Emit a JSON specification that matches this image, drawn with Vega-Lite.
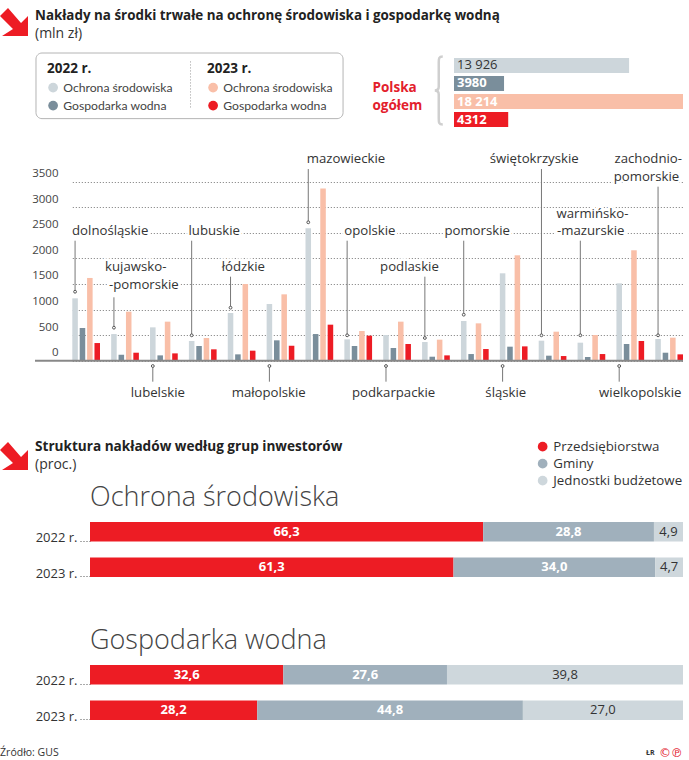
{
"$schema":"https://vega.github.io/schema/vega-lite/v6.json",
"background":"white","padding":0,
"bounds":"flush","spacing":0,
"config":{"font":"Open Sans","view":{"stroke":null},"locale":{"number":{"decimal":",","thousands":" ","grouping":[3],"currency":["","zł"]}},"text":{"color":"#333"}},
"datasets":{
"regions":[
{"region":"dolnośląskie","measure":"Ochrona środowiska","year":"2022","value":1219},{"region":"dolnośląskie","measure":"Gospodarka wodna","year":"2022","value":639},{"region":"dolnośląskie","measure":"Ochrona środowiska","year":"2023","value":1617},{"region":"dolnośląskie","measure":"Gospodarka wodna","year":"2023","value":345},
{"region":"kujawsko-pomorskie","measure":"Ochrona środowiska","year":"2022","value":521},{"region":"kujawsko-pomorskie","measure":"Gospodarka wodna","year":"2022","value":117},{"region":"kujawsko-pomorskie","measure":"Ochrona środowiska","year":"2023","value":958},{"region":"kujawsko-pomorskie","measure":"Gospodarka wodna","year":"2023","value":156},
{"region":"lubelskie","measure":"Ochrona środowiska","year":"2022","value":652},{"region":"lubelskie","measure":"Gospodarka wodna","year":"2022","value":104},{"region":"lubelskie","measure":"Ochrona środowiska","year":"2023","value":763},{"region":"lubelskie","measure":"Gospodarka wodna","year":"2023","value":143},
{"region":"lubuskie","measure":"Ochrona środowiska","year":"2022","value":385},{"region":"lubuskie","measure":"Gospodarka wodna","year":"2022","value":287},{"region":"lubuskie","measure":"Ochrona środowiska","year":"2023","value":443},{"region":"lubuskie","measure":"Gospodarka wodna","year":"2023","value":222},
{"region":"łódzkie","measure":"Ochrona środowiska","year":"2022","value":932},{"region":"łódzkie","measure":"Gospodarka wodna","year":"2022","value":124},{"region":"łódzkie","measure":"Ochrona środowiska","year":"2023","value":1499},{"region":"łódzkie","measure":"Gospodarka wodna","year":"2023","value":196},
{"region":"małopolskie","measure":"Ochrona środowiska","year":"2022","value":1108},{"region":"małopolskie","measure":"Gospodarka wodna","year":"2022","value":398},{"region":"małopolskie","measure":"Ochrona środowiska","year":"2023","value":1297},{"region":"małopolskie","measure":"Gospodarka wodna","year":"2023","value":293},
{"region":"mazowieckie","measure":"Ochrona środowiska","year":"2022","value":2588},{"region":"mazowieckie","measure":"Gospodarka wodna","year":"2022","value":521},{"region":"mazowieckie","measure":"Ochrona środowiska","year":"2023","value":3364},{"region":"mazowieckie","measure":"Gospodarka wodna","year":"2023","value":704},
{"region":"opolskie","measure":"Ochrona środowiska","year":"2022","value":417},{"region":"opolskie","measure":"Gospodarka wodna","year":"2022","value":287},{"region":"opolskie","measure":"Ochrona środowiska","year":"2023","value":580},{"region":"opolskie","measure":"Gospodarka wodna","year":"2023","value":489},
{"region":"podkarpackie","measure":"Ochrona środowiska","year":"2022","value":502},{"region":"podkarpackie","measure":"Gospodarka wodna","year":"2022","value":248},{"region":"podkarpackie","measure":"Ochrona środowiska","year":"2023","value":763},{"region":"podkarpackie","measure":"Gospodarka wodna","year":"2023","value":326},
{"region":"podlaskie","measure":"Ochrona środowiska","year":"2022","value":365},{"region":"podlaskie","measure":"Gospodarka wodna","year":"2022","value":78},{"region":"podlaskie","measure":"Ochrona środowiska","year":"2023","value":411},{"region":"podlaskie","measure":"Gospodarka wodna","year":"2023","value":104},
{"region":"pomorskie","measure":"Ochrona środowiska","year":"2022","value":776},{"region":"pomorskie","measure":"Gospodarka wodna","year":"2022","value":130},{"region":"pomorskie","measure":"Ochrona środowiska","year":"2023","value":730},{"region":"pomorskie","measure":"Gospodarka wodna","year":"2023","value":228},
{"region":"śląskie","measure":"Ochrona środowiska","year":"2022","value":1708},{"region":"śląskie","measure":"Gospodarka wodna","year":"2022","value":274},{"region":"śląskie","measure":"Ochrona środowiska","year":"2023","value":2060},{"region":"śląskie","measure":"Gospodarka wodna","year":"2023","value":280},
{"region":"świętokrzyskie","measure":"Ochrona środowiska","year":"2022","value":391},{"region":"świętokrzyskie","measure":"Gospodarka wodna","year":"2022","value":98},{"region":"świętokrzyskie","measure":"Ochrona środowiska","year":"2023","value":567},{"region":"świętokrzyskie","measure":"Gospodarka wodna","year":"2023","value":91},
{"region":"warmińsko-mazurskie","measure":"Ochrona środowiska","year":"2022","value":352},{"region":"warmińsko-mazurskie","measure":"Gospodarka wodna","year":"2022","value":72},{"region":"warmińsko-mazurskie","measure":"Ochrona środowiska","year":"2023","value":502},{"region":"warmińsko-mazurskie","measure":"Gospodarka wodna","year":"2023","value":130},
{"region":"wielkopolskie","measure":"Ochrona środowiska","year":"2022","value":1512},{"region":"wielkopolskie","measure":"Gospodarka wodna","year":"2022","value":326},{"region":"wielkopolskie","measure":"Ochrona środowiska","year":"2023","value":2158},{"region":"wielkopolskie","measure":"Gospodarka wodna","year":"2023","value":385},
{"region":"zachodniopomorskie","measure":"Ochrona środowiska","year":"2022","value":424},{"region":"zachodniopomorskie","measure":"Gospodarka wodna","year":"2022","value":156},{"region":"zachodniopomorskie","measure":"Ochrona środowiska","year":"2023","value":450},{"region":"zachodniopomorskie","measure":"Gospodarka wodna","year":"2023","value":124}
],
"callouts":[
{"region":"dolnośląskie","tip":1348,"end":2345},{"region":"kujawsko-pomorskie","tip":645,"end":1239},{"region":"lubelskie","tip":-104,"end":-410},{"region":"lubuskie","tip":496,"end":2345},
{"region":"łódzkie","tip":1036,"end":1642},{"region":"małopolskie","tip":-104,"end":-410},{"region":"mazowieckie","tip":2705,"end":3746},{"region":"opolskie","tip":496,"end":2345},
{"region":"podkarpackie","tip":-104,"end":-410},{"region":"podlaskie","tip":444,"end":1642},{"region":"pomorskie","tip":899,"end":2345},{"region":"śląskie","tip":-104,"end":-410},
{"region":"świętokrzyskie","tip":496,"end":3746},{"region":"warmińsko-mazurskie","tip":496,"end":2345},{"region":"wielkopolskie","tip":-104,"end":-410},{"region":"zachodniopomorskie","tip":496,"end":3401}
],
"calloutLabels":[
{"region":"dolnośląskie","line":"dolnośląskie","level":2530},{"region":"kujawsko-pomorskie","line":"kujawsko-","level":1825},{"region":"kujawsko-pomorskie","line":"-pomorskie","level":1473},{"region":"lubelskie","line":"lubelskie","level":-625},{"region":"lubuskie","line":"lubuskie","level":2530},
{"region":"łódzkie","line":"łódzkie","level":1825},{"region":"małopolskie","line":"małopolskie","level":-625},{"region":"mazowieckie","line":"mazowieckie","level":3936},{"region":"opolskie","line":"opolskie","level":2530},
{"region":"podkarpackie","line":"podkarpackie","level":-625},{"region":"podlaskie","line":"podlaskie","level":1825},{"region":"pomorskie","line":"pomorskie","level":2530},{"region":"śląskie","line":"śląskie","level":-625},
{"region":"świętokrzyskie","line":"świętokrzyskie","level":3936},{"region":"warmińsko-mazurskie","line":"warmińsko-","level":2867},{"region":"warmińsko-mazurskie","line":"-mazurskie","level":2534},{"region":"wielkopolskie","line":"wielkopolskie","level":-625},{"region":"zachodniopomorskie","line":"zachodnio-","level":3936},{"region":"zachodniopomorskie","line":"pomorskie","level":3584}
],
"structure":[
{"chart":"Ochrona środowiska","year":"2022 r.","group":"Przedsiębiorstwa","rank":1,"value":66.3},{"chart":"Ochrona środowiska","year":"2022 r.","group":"Gminy","rank":2,"value":28.8},{"chart":"Ochrona środowiska","year":"2022 r.","group":"Jednostki budżetowe","rank":3,"value":4.9},
{"chart":"Ochrona środowiska","year":"2023 r.","group":"Przedsiębiorstwa","rank":1,"value":61.3},{"chart":"Ochrona środowiska","year":"2023 r.","group":"Gminy","rank":2,"value":34.0},{"chart":"Ochrona środowiska","year":"2023 r.","group":"Jednostki budżetowe","rank":3,"value":4.7},
{"chart":"Gospodarka wodna","year":"2022 r.","group":"Przedsiębiorstwa","rank":1,"value":32.6},{"chart":"Gospodarka wodna","year":"2022 r.","group":"Gminy","rank":2,"value":27.6},{"chart":"Gospodarka wodna","year":"2022 r.","group":"Jednostki budżetowe","rank":3,"value":39.8},
{"chart":"Gospodarka wodna","year":"2023 r.","group":"Przedsiębiorstwa","rank":1,"value":28.2},{"chart":"Gospodarka wodna","year":"2023 r.","group":"Gminy","rank":2,"value":44.8},{"chart":"Gospodarka wodna","year":"2023 r.","group":"Jednostki budżetowe","rank":3,"value":27.0}
]
},
"hconcat":[
{"width":35,"height":760,"data":{"values":[{}]},"mark":{"type":"text","text":""}},
{"bounds":"flush","spacing":0,"vconcat":[
{"width":648,"height":53,"data":{"values":[{}]},
 "mark":{"type":"point","shape":"M-6,-14L7,1L14,-6L14,14L-12,14L-1,7L-14,-6Z","size":4,"filled":true,"color":"#ed1c24","opacity":1},
 "encoding":{"x":{"datum":-21,"type":"quantitative","scale":{"domain":[0,648],"range":[0,648]},"axis":null},"y":{"datum":22,"type":"quantitative","scale":{"domain":[0,53],"range":[0,53]},"axis":null}}},
{"width":648,"height":75,
 "title":{"text":"Nakłady na środki trwałe na ochronę środowiska i gospodarkę wodną","subtitle":"(mln zł)","anchor":"start","frame":"group","font":"Open Sans","fontSize":13.4,"fontWeight":"bold","color":"#222","subtitleFont":"Open Sans","subtitleFontSize":14,"subtitleColor":"#333","subtitlePadding":4,"offset":11},
 "layer":[
  {"data":{"values":[{}]},
   "layer":[
    {"mark":{"type":"rect","fill":"white","stroke":"#b4b4b4","strokeWidth":1,"cornerRadius":6},
     "encoding":{"x":{"datum":1,"type":"quantitative","scale":{"domain":[0,648],"range":[0,648]},"axis":null},"x2":{"datum":309},"y":{"datum":0,"type":"quantitative","scale":{"domain":[0,75],"range":[0,75]},"axis":null},"y2":{"datum":70}}},
    {"mark":{"type":"rule","stroke":"#999","strokeDash":[1,2],"strokeWidth":1},
     "encoding":{"x":{"datum":156,"type":"quantitative"},"y":{"datum":9,"type":"quantitative"},"y2":{"datum":59}}},
    {"mark":{"type":"point","shape":"M6,-34C2,-34 2,-32 2,-28L2,-4C2,-1 0,0 -2,0C0,0 2,1 2,4L2,28C2,32 2,34 6,34","size":4,"filled":false,"stroke":"#cfcfcf","strokeWidth":2.5,"opacity":1},"encoding":{"x":{"datum":403,"type":"quantitative"},"y":{"datum":40,"type":"quantitative"}}}
   ]},
  {"data":{"values":[{"row":"a","measure":"Ochrona środowiska 2022","value":13926,"label":"13 926"},{"row":"b","measure":"Gospodarka wodna 2022","value":3980,"label":"3980"},{"row":"c","measure":"Ochrona środowiska 2023","value":18214,"label":"18 214"},{"row":"d","measure":"Gospodarka wodna 2023","value":4312,"label":"4312"}]},
   "encoding":{"y":{"field":"row","type":"nominal","scale":{"range":[5,74],"paddingInner":0.167,"paddingOuter":0},"axis":{"orient":"left","title":["Polska","ogółem"],"titleAngle":0,"titleAlign":"left","titleBaseline":"middle","titleX":337,"titleY":34,"titleFont":"Open Sans","titleFontSize":13.5,"titleFontWeight":"bold","titleColor":"#e3202c","titleLineHeight":18,"labels":false,"ticks":false,"domain":false}},"x":{"field":"value","type":"quantitative","scale":{"domain":[0,18214],"range":[419,648]},"axis":null}},
   "layer":[
    {"mark":{"type":"bar"},"encoding":{"color":{"field":"measure","type":"nominal","scale":{"domain":["Ochrona środowiska 2022","Gospodarka wodna 2022","Ochrona środowiska 2023","Gospodarka wodna 2023"],"range":["#cdd6db","#7a8e9b","#f9bfa8","#ed1c24"]},"legend":null}}},
    {"mark":{"type":"text","align":"left","dx":3,"fontSize":13,"fontWeight":{"expr":"datum.row=='a'?'normal':'bold'"}},"encoding":{"x":{"datum":0,"type":"quantitative"},"text":{"field":"label"},"color":{"condition":{"test":"datum.row=='a'","value":"#333"},"value":"white"}}}
   ]}
 ],
 "resolve":{"scale":{"x":"independent","y":"independent","color":"independent"}}},
{"width":648,"height":312,
 "layer":[
  {"data":{"name":"calloutLabels"},"mark":{"type":"text","fontSize":13.2,"stroke":"white","strokeWidth":5,"dx":{"expr":"datum.region=='zachodniopomorskie'&&datum.line=='pomorskie'?-11.6:{'dolnośląskie':35.1,'kujawsko-':21.8,'-pomorskie':29.9,'lubelskie':5,'lubuskie':22.6,'łódzkie':12.8,'małopolskie':-0.7,'mazowieckie':37.7,'opolskie':22.7,'podkarpackie':7.6,'podlaskie':-15.4,'pomorskie':13.4,'śląskie':3.2,'świętokrzyskie':-7.3,'warmińsko-':12.1,'-mazurskie':10.4,'wielkopolskie':21.1,'zachodnio-':-9.8}[datum.line]"}},
   "encoding":{"x":{"field":"region","type":"nominal","sort":null,"scale":{"range":[37.3,648],"paddingInner":0.287,"paddingOuter":0},"axis":null},"xOffset":{"datum":"2022 Ochrona środowiska","scale":{"domain":["2022 Ochrona środowiska","2022 Gospodarka wodna","2023 Ochrona środowiska","2023 Gospodarka wodna"],"paddingInner":0.25,"paddingOuter":0}},
    "y":{"field":"level","type":"quantitative","scale":{"domain":[-1550,4548],"nice":false,"zero":false},"axis":{"values":[0,500,1000,1500,2000,2500,3000,3500],"format":"d","title":null,"domain":false,"ticks":false,"tickSize":0,"labelPadding":-23,"labelOffset":-8,"labelFontSize":11.5,"labelColor":"#444","grid":true,"gridColor":"#777","gridDash":[1,2],"gridWidth":1}},"text":{"field":"line"}}},
  {"data":{"name":"regions"},"transform":[{"filter":"datum.year=='2022'"},{"calculate":"datum.year+' '+datum.measure","as":"series"}],"mark":{"type":"bar"},
   "encoding":{"x":{"field":"region","type":"nominal","sort":null},"xOffset":{"field":"series"},"y":{"field":"value","type":"quantitative"},
    "color":{"field":"measure","type":"nominal","scale":{"domain":["Ochrona środowiska","Gospodarka wodna"],"range":["#cdd6db","#7a8e9b"]},"legend":{"title":"2022 r.","orient":"none","legendX":12,"legendY":-66,"symbolType":"circle","symbolSize":95,"titleFontSize":13.5,"titleFontWeight":"bold","titleColor":"#222","titleFont":"Open Sans","labelFontSize":12.2,"labelColor":"#444","labelFont":"Lato","rowPadding":5,"titlePadding":6}}}},
  {"data":{"name":"regions"},"transform":[{"filter":"datum.year=='2023'"},{"calculate":"datum.year+' '+datum.measure","as":"series"}],"mark":{"type":"bar"},
   "encoding":{"x":{"field":"region","type":"nominal","sort":null},"xOffset":{"field":"series"},"y":{"field":"value","type":"quantitative"},
    "color":{"field":"measure","type":"nominal","scale":{"domain":["Ochrona środowiska","Gospodarka wodna"],"range":["#f9bfa8","#ed1c24"]},"legend":{"title":"2023 r.","orient":"none","legendX":172,"legendY":-66,"symbolType":"circle","symbolSize":95,"titleFontSize":13.5,"titleFontWeight":"bold","titleColor":"#222","titleFont":"Open Sans","labelFontSize":12.2,"labelColor":"#444","labelFont":"Lato","rowPadding":5,"titlePadding":6}}}},
  {"data":{"values":[{}]},"mark":{"type":"rule","stroke":"#888","strokeWidth":2},"encoding":{"y":{"datum":0,"type":"quantitative"}}},
  {"data":{"name":"callouts"},"mark":{"type":"rule","stroke":"#777","strokeWidth":1},"encoding":{"x":{"field":"region","type":"nominal","sort":null},"xOffset":{"datum":"2022 Ochrona środowiska"},"y":{"field":"tip","type":"quantitative"},"y2":{"field":"end"}}},
  {"data":{"name":"callouts"},"mark":{"type":"point","filled":true,"fill":"white","stroke":"#555","strokeWidth":1,"size":8,"opacity":1},"encoding":{"x":{"field":"region","type":"nominal","sort":null},"xOffset":{"datum":"2022 Ochrona środowiska"},"y":{"field":"tip","type":"quantitative"}}},
  {"data":{"name":"calloutLabels"},"mark":{"type":"text","fontSize":13.2,"color":"#333","dx":{"expr":"datum.region=='zachodniopomorskie'&&datum.line=='pomorskie'?-11.6:{'dolnośląskie':35.1,'kujawsko-':21.8,'-pomorskie':29.9,'lubelskie':5,'lubuskie':22.6,'łódzkie':12.8,'małopolskie':-0.7,'mazowieckie':37.7,'opolskie':22.7,'podkarpackie':7.6,'podlaskie':-15.4,'pomorskie':13.4,'śląskie':3.2,'świętokrzyskie':-7.3,'warmińsko-':12.1,'-mazurskie':10.4,'wielkopolskie':21.1,'zachodnio-':-9.8}[datum.line]"}},
   "encoding":{"x":{"field":"region","type":"nominal","sort":null},"xOffset":{"datum":"2022 Ochrona środowiska"},"y":{"field":"level","type":"quantitative"},"text":{"field":"line"}}}
 ],
 "resolve":{"scale":{"color":"independent"}}},
{"width":648,"height":30,
 "layer":[
  {"data":{"values":[{}]},"mark":{"type":"point","shape":"M-6,-14L7,1L14,-6L14,14L-12,14L-1,7L-14,-6Z","size":4,"filled":true,"color":"#ed1c24","opacity":1},
   "encoding":{"x":{"datum":-21,"type":"quantitative","scale":{"domain":[0,648],"range":[0,648]},"axis":null},"y":{"datum":16,"type":"quantitative","scale":{"domain":[0,30],"range":[0,30]},"axis":null}}},
  {"data":{"name":"structure"},"transform":[{"filter":"false"}],"mark":{"type":"circle","opacity":1},
   "encoding":{"color":{"field":"group","type":"nominal","scale":{"domain":["Przedsiębiorstwa","Gminy","Jednostki budżetowe"],"range":["#ed1c24","#a0b0bc","#ced7dc"]},"legend":{"title":null,"orient":"none","legendX":501,"legendY":0,"symbolType":"circle","symbolSize":95,"symbolOpacity":1,"labelFontSize":13.3,"labelColor":"#333","labelFont":"Open Sans","rowPadding":3}}}}
 ]},
{"width":648,"height":42,"data":{"values":[{}]},"mark":{"type":"text","text":""},
 "title":{"text":"Struktura nakładów według grup inwestorów","subtitle":"(proc.)","anchor":"start","frame":"group","font":"Open Sans","fontSize":13.6,"fontWeight":"bold","color":"#222","subtitleFont":"Open Sans","subtitleFontSize":14,"subtitleColor":"#333","subtitlePadding":4,"offset":-2}},
{"width":648,"height":143,
 "title":{"text":"Ochrona środowiska","anchor":"start","frame":"group","dx":55,"font":"Open Sans","fontSize":27,"fontWeight":300,"color":"#444","offset":0},
 "data":{"name":"structure"},"transform":[{"filter":"datum.chart=='Ochrona środowiska'"}],
 "encoding":{"y":{"field":"year","type":"nominal","scale":{"range":[10,65],"paddingInner":0.45,"paddingOuter":0},"axis":{"title":null,"domain":false,"offset":-55,"tickSize":11,"tickOffset":9,"tickDash":[1,2],"tickColor":"#555","labelFontSize":13,"labelColor":"#333","labelPadding":2,"labelOffset":-3,"labelFont":"Open Sans"}},"x":{"field":"value","type":"quantitative","stack":"zero","scale":{"domain":[0,100],"range":[55,648]},"axis":null},"order":{"field":"rank"}},
 "layer":[
  {"mark":{"type":"bar"},"encoding":{"color":{"field":"group","type":"nominal","scale":{"domain":["Przedsiębiorstwa","Gminy","Jednostki budżetowe"],"range":["#ed1c24","#a0b0bc","#ced7dc"]},"legend":null}}},
  {"mark":{"type":"text","fontSize":13,"fontWeight":{"expr":"datum.rank==3?'normal':'bold'"}},"encoding":{"x":{"field":"value","type":"quantitative","stack":"zero","bandPosition":0.5},"text":{"field":"value","format":".1f"},"color":{"condition":{"test":"datum.rank==3","value":"#333"},"value":"white"}}}
 ]},
{"width":648,"height":90,
 "title":{"text":"Gospodarka wodna","anchor":"start","frame":"group","dx":55,"font":"Open Sans","fontSize":27,"fontWeight":300,"color":"#444","offset":0},
 "data":{"name":"structure"},"transform":[{"filter":"datum.chart=='Gospodarka wodna'"}],
 "encoding":{"y":{"field":"year","type":"nominal","scale":{"range":[10,65],"paddingInner":0.45,"paddingOuter":0},"axis":{"title":null,"domain":false,"offset":-55,"tickSize":11,"tickOffset":9,"tickDash":[1,2],"tickColor":"#555","labelFontSize":13,"labelColor":"#333","labelPadding":2,"labelOffset":-3,"labelFont":"Open Sans"}},"x":{"field":"value","type":"quantitative","stack":"zero","scale":{"domain":[0,100],"range":[55,648]},"axis":null},"order":{"field":"rank"}},
 "layer":[
  {"mark":{"type":"bar"},"encoding":{"color":{"field":"group","type":"nominal","scale":{"domain":["Przedsiębiorstwa","Gminy","Jednostki budżetowe"],"range":["#ed1c24","#a0b0bc","#ced7dc"]},"legend":null}}},
  {"mark":{"type":"text","fontSize":13,"fontWeight":{"expr":"datum.rank==3?'normal':'bold'"}},"encoding":{"x":{"field":"value","type":"quantitative","stack":"zero","bandPosition":0.5},"text":{"field":"value","format":".1f"},"color":{"condition":{"test":"datum.rank==3","value":"#333"},"value":"white"}}}
 ]},
{"width":648,"height":15,"data":{"values":[{}]},
 "layer":[
  {"mark":{"type":"text","text":"Źródło: GUS","align":"left","fontSize":10.5,"color":"#333"},"encoding":{"x":{"datum":-35,"type":"quantitative","scale":{"domain":[0,648],"range":[0,648]},"axis":null}}},
  {"mark":{"type":"text","text":"ŁR","align":"left","fontSize":7,"fontWeight":"bold","color":"#333"},"encoding":{"x":{"datum":613,"type":"quantitative"}}},
  {"mark":{"type":"text","text":"©℗","align":"left","font":"DejaVu Sans","fontSize":12,"color":"#e3202c"},"encoding":{"x":{"datum":626,"type":"quantitative"}}}
 ]}
],"resolve":{"scale":{"color":"independent","x":"independent","y":"independent"}}}
],"resolve":{"scale":{"color":"independent"}}
}
